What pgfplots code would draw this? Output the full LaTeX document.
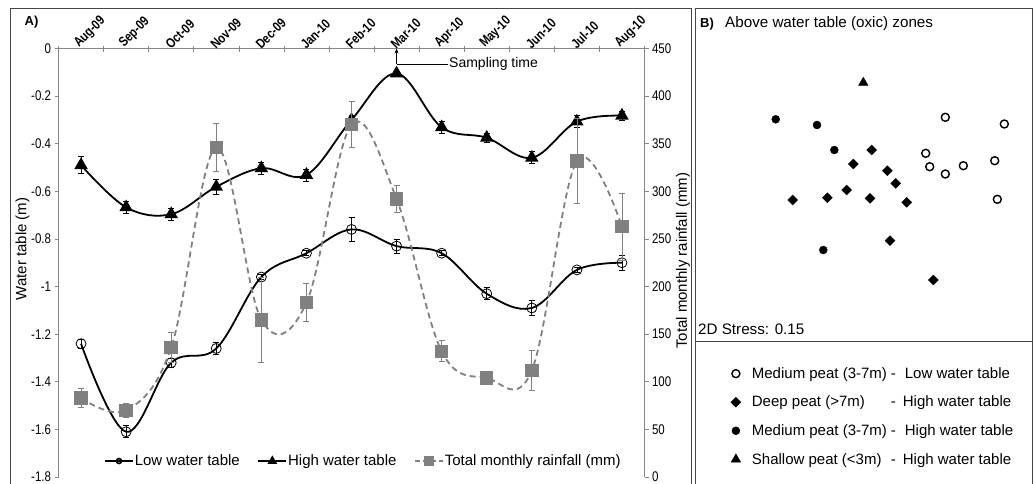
\documentclass[border=0pt]{standalone}
\usepackage{pgfplots}
\pgfplotsset{compat=1.18}
\usepackage{fontspec}
\setmainfont{Liberation Sans}
\newfontfamily\narrowfont{Liberation Sans}[FakeStretch=0.82]
\usetikzlibrary{arrows.meta}

\definecolor{axgray}{RGB}{134,134,134}
\definecolor{raingray}{RGB}{128,128,128}
\definecolor{framegray}{RGB}{70,70,70}

\pgfplotsset{
  bleg/.style={legend image code/.code={
    \draw[##1] plot coordinates {(6pt,0pt)};
    \path[draw=none, fill=none] (0pt,-1pt) rectangle (21pt,1pt);
  }},
}

\begin{document}
\begin{tikzpicture}[x=1pt,y=1pt]
\path[use as bounding box] (0,0) rectangle (1035,483);
% panel frames
\draw[framegray, line width=0.8pt] (10,-5) -- (10,474.7) -- (691.5,474.7) -- (691.5,-5);
\draw[framegray, line width=0.8pt] (695,-5) -- (695,474.7) -- (1032,474.7) -- (1032,-5);
\draw[framegray, line width=0.8pt] (695,141.3) -- (1032,141.3);

% ---------- Panel A, left axis ----------
\begin{axis}[
  at={(58.5pt,6pt)}, anchor=south west, scale only axis,
  width=586pt, height=428.5pt,
  xmin=-0.5, xmax=12.5, ymin=-1.8, ymax=0,
  axis x line*=top, axis y line*=left,
  axis line style={axgray, line width=0.6pt},
  tick style={axgray, line width=0.6pt},
  tick align=outside, major tick length=4pt, minor tick length=6pt,
  xtick={0,...,12},
  xticklabels={Aug-09,Sep-09,Oct-09,Nov-09,Dec-09,Jan-10,Feb-10,Mar-10,Apr-10,May-10,Jun-10,Jul-10,Aug-10},
  minor xtick={-0.5,0.5,...,12.5},
  major x tick style={draw=none},
  minor x tick style={yshift=-4pt},
  xticklabel style={font=\narrowfont\bfseries\fontsize{13.5}{15}\selectfont, rotate=45, anchor=south west, inner sep=0pt, xshift=-4pt, yshift=-4pt},
  ytick={-1.8,-1.6,-1.4,-1.2,-1,-0.8,-0.6,-0.4,-0.2,0},
  yticklabel style={font=\narrowfont\fontsize{14}{16}\selectfont},
  /pgf/number format/assume math mode=true,
  clip=false,
]
% Low water table
\addplot[black, line width=1.8pt, smooth, tension=0.6, mark=o, mark size=5pt,
  mark options={line width=0.8pt},
  error bars/.cd, y dir=both, y explicit,
  error bar style={black, line width=0.7pt},
  error mark options={rotate=90, mark size=3pt, line width=0.7pt, black}]
coordinates {
(0,-1.24) +- (0,0.02)
(1,-1.61) +- (0,0.025)
(2,-1.32) +- (0,0.02)
(3,-1.26) +- (0,0.025)
(4,-0.96) +- (0,0.01)
(5,-0.86) +- (0,0.01)
(6,-0.76) +- (0,0.05)
(7,-0.83) +- (0,0.03)
(8,-0.86) +- (0,0.01)
(9,-1.03) +- (0,0.025)
(10,-1.09) +- (0,0.03)
(11,-0.93) +- (0,0.01)
(12,-0.90) +- (0,0.03)
};
% High water table
\addplot[black, line width=1.8pt, smooth, tension=0.6, mark=triangle*, mark size=6pt,
  error bars/.cd, y dir=both, y explicit,
  error bar style={black, line width=0.7pt},
  error mark options={rotate=90, mark size=3pt, line width=0.7pt, black}]
coordinates {
(0,-0.49) +- (0,0.035)
(1,-0.667) +- (0,0.025)
(2,-0.696) +- (0,0.025)
(3,-0.581) +- (0,0.03)
(4,-0.503) +- (0,0.025)
(5,-0.531) +- (0,0.025)
(6,-0.30) +- (0,0.02)
(7,-0.105) +- (0,0.01)
(8,-0.331) +- (0,0.025)
(9,-0.375) +- (0,0.02)
(10,-0.459) +- (0,0.025)
(11,-0.307) +- (0,0.025)
(12,-0.282) +- (0,0.02)
};
% sampling time annotation
\draw[black, line width=0.7pt, -{Stealth[length=5pt,width=4pt]}] (axis cs:7,-0.065) -- (axis cs:7,0);
\draw[black, line width=0.7pt] (axis cs:7,-0.065) -- (axis cs:8.14,-0.065);
\end{axis}

% ---------- Panel A, right axis ----------
\begin{axis}[
  at={(58.5pt,6pt)}, anchor=south west, scale only axis,
  width=586pt, height=428.5pt,
  xmin=-0.5, xmax=12.5, ymin=0, ymax=450,
  axis y line*=right, axis x line=none,
  axis line style={axgray, line width=0.6pt},
  tick style={axgray, line width=0.6pt},
  tick align=outside, major tick length=4pt,
  ytick={0,50,...,450},
  yticklabel style={font=\narrowfont\fontsize{14}{16}\selectfont},
  /pgf/number format/assume math mode=true,
  clip=false,
  legend columns=3,
  legend style={at={(0.0776,0.0373)}, anchor=west, draw=none, fill=none,
    inner sep=0pt, nodes={inner sep=1pt},
    font=\fontsize{15}{17}\selectfont,
    /tikz/every even column/.append style={column sep=16.7pt}},
  legend image code/.code={
    \draw[#1, mark=none] (0pt,0pt) -- (28pt,0pt);
    \draw[#1, mark options={solid}] plot coordinates {(14pt,0pt)};
  },
]
\addlegendimage{black, line width=1.6pt, mark=o, mark size=2.5pt, mark options={line width=0.7pt}}
\addlegendentry{Low water table}
\addlegendimage{black, line width=1.6pt, mark=triangle*, mark size=4pt}
\addlegendentry{High water table}
\addlegendimage{raingray, line width=1.6pt, dash pattern=on 5pt off 3pt, mark=square*, mark size=3.8pt, mark options={fill=raingray}}
\addlegendentry{Total monthly rainfall (mm)}
% Rainfall
\addplot[forget plot, raingray, line width=1.8pt, dash pattern=on 6pt off 4pt, smooth, tension=0.6,
  mark=square*, mark size=5.8pt, mark options={solid, fill=raingray},
  error bars/.cd, y dir=both, y explicit,
  error bar style={raingray, solid, line width=0.7pt},
  error mark options={rotate=90, mark size=3pt, line width=0.7pt, raingray, solid}]
coordinates {
(0,83) +- (0,10)
(1,70) +- (0,7)
(2,136) +- (0,16)
(3,346) +- (0,25)
(4,165) +- (0,45)
(5,183) +- (0,20)
(6,370) +- (0,24)
(7,292) +- (0,14)
(8,132) +- (0,11)
(9,104) +- (0,3)
(10,112) +- (0,21)
(11,332) +- (0,45)
(12,263) +- (0,35)
};
\end{axis}

% ---------- Panel B ----------
\begin{axis}[
  at={(0pt,0pt)}, anchor=south west, scale only axis,
  width=1035pt, height=483pt,
  xmin=0, xmax=1035, ymin=0, ymax=483,
  hide axis, clip=false,
  legend style={at={(729.7/1035,66.5/483)}, anchor=west, draw=none, fill=none,
    inner sep=0pt, nodes={inner sep=1pt}, row sep=14.2pt, legend cell align=left,
    font=\fontsize{15}{17}\selectfont},
]
\addplot[only marks, bleg, mark=o, mark size=4pt, black, mark options={line width=1.4pt}]
coordinates {(945.3,365.7) (1004.3,359) (925.7,329.7) (929.7,316.3) (945.3,309) (963.3,317.3) (994.7,322.3) (997.3,283.7)};
\addlegendentry{\makebox[139pt][l]{Medium peat (3-7m)}-\hspace{9pt}Low water table}
\addplot[only marks, bleg, mark=square*, mark size=3.5pt, black, mark options={rotate=45}]
coordinates {(871.7,333) (853.3,319) (887.3,312.3) (895.7,299.7) (846.7,293) (792.7,283) (827.3,285.3) (870,284.7) (906.7,280.7) (890,242.3) (933.3,203)};
\addlegendentry{\makebox[139pt][l]{Deep peat (>7m)}-\hspace{7pt}High water table}
\addplot[only marks, bleg, mark=*, mark size=4pt, black]
coordinates {(775.7,363.7) (817,358) (834.3,333) (823.3,233)};
\addlegendentry{\makebox[139pt][l]{Medium peat (3-7m)}-\hspace{9pt}High water table}
\addplot[only marks, bleg, mark=triangle*, mark size=5.5pt, black]
coordinates {(863.3,400.3)};
\addlegendentry{\makebox[139pt][l]{Shallow peat (<3m)}-\hspace{7pt}High water table}
\end{axis}

% ---------- texts ----------
\node[font=\bfseries\fontsize{13}{15}\selectfont, inner sep=0pt] at (31.5,460.5) {A)};
\node[rotate=90, font=\fontsize{15}{17}\selectfont, inner sep=0pt] at (22.5,234) {Water table (m)};
\node[rotate=90, font=\fontsize{15}{17}\selectfont, inner sep=0pt] at (683,222.2) {Total monthly rainfall (mm)};
\node[anchor=west, font=\fontsize{14}{16}\selectfont, inner sep=0pt] at (449,419) {Sampling time};
\node[anchor=west, font=\bfseries\fontsize{13}{15}\selectfont, inner sep=0pt] at (700,459) {B)};
\node[anchor=west, font=\fontsize{15.2}{17}\selectfont, inner sep=0pt] at (725,459) {Above water table (oxic) zones};
\node[anchor=west, font=\fontsize{15.2}{17}\selectfont, inner sep=0pt] at (698,154) {2D Stress: 0.15};
\end{tikzpicture}
\end{document}
